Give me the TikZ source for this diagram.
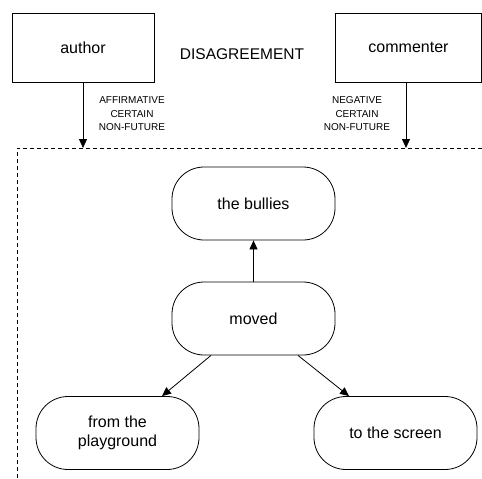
\documentclass[tikz,border=0pt]{standalone}
\usepackage{fontspec}
\setmainfont{Liberation Sans}
\usetikzlibrary{arrows.meta}
\begin{document}
\begin{tikzpicture}[x=1pt,y=-1pt,
  box/.style={draw,line width=0.8pt,minimum width=142pt,minimum height=69pt,inner sep=0pt,font=\fontsize{16}{19}\selectfont},
  pill/.style={draw,line width=0.8pt,rounded corners=32pt,minimum width=163pt,minimum height=73pt,inner sep=0pt,align=center,font=\fontsize{16}{19}\selectfont},
  small/.style={align=center,inner sep=0pt,font=\fontsize{10}{13.5}\selectfont},
  conn/.style={line width=0.8pt,-{Triangle[width=8pt,length=9pt]}},
  frame/.style={line width=0.8pt,dash pattern=on 4pt off 3pt}]
\useasboundingbox (0,0) rectangle (482,479);
\node[box] (author) at (83,47.5) {author};
\node[box,minimum width=146pt] (commenter) at (408.5,47.5) {commenter};
\node[font=\fontsize{15.5}{18}\selectfont,inner sep=0pt] (dis) at (242,54) {DISAGREEMENT};
\coordinate (fa) at (83,148);
\coordinate (fc) at (406,148);
\coordinate (ftr) at (482,148);
\coordinate (ftl) at (17,148);
\coordinate (fbl) at (17,479);
\draw[frame] (ftr) -- (ftl) -- (fbl);
\draw[conn] (author.south) -- (fa);
\draw[conn] (commenter.south -| fc) -- (fc);
\node[small] (la) at (132,114) {AFFIRMATIVE\\CERTAIN\\NON-FUTURE};
\node[small] (lc) at (357,114) {NEGATIVE\\CERTAIN\\NON-FUTURE};
\node[pill] (bullies) at (253.5,203.5) {the bullies};
\node[pill] (moved) at (253.5,318.5) {moved};
\node[pill] (play) at (117.5,433) {from the\\playground};
\node[pill] (screen) at (395.5,433) {to the screen};
\draw[conn] (moved.north) -- (bullies.south);
\draw[conn] ([xshift=-42.5pt]moved.south) -- ([xshift=44.5pt]play.north);
\draw[conn] ([xshift=44.5pt]moved.south) -- ([xshift=-46.5pt]screen.north);
\end{tikzpicture}
\end{document}
